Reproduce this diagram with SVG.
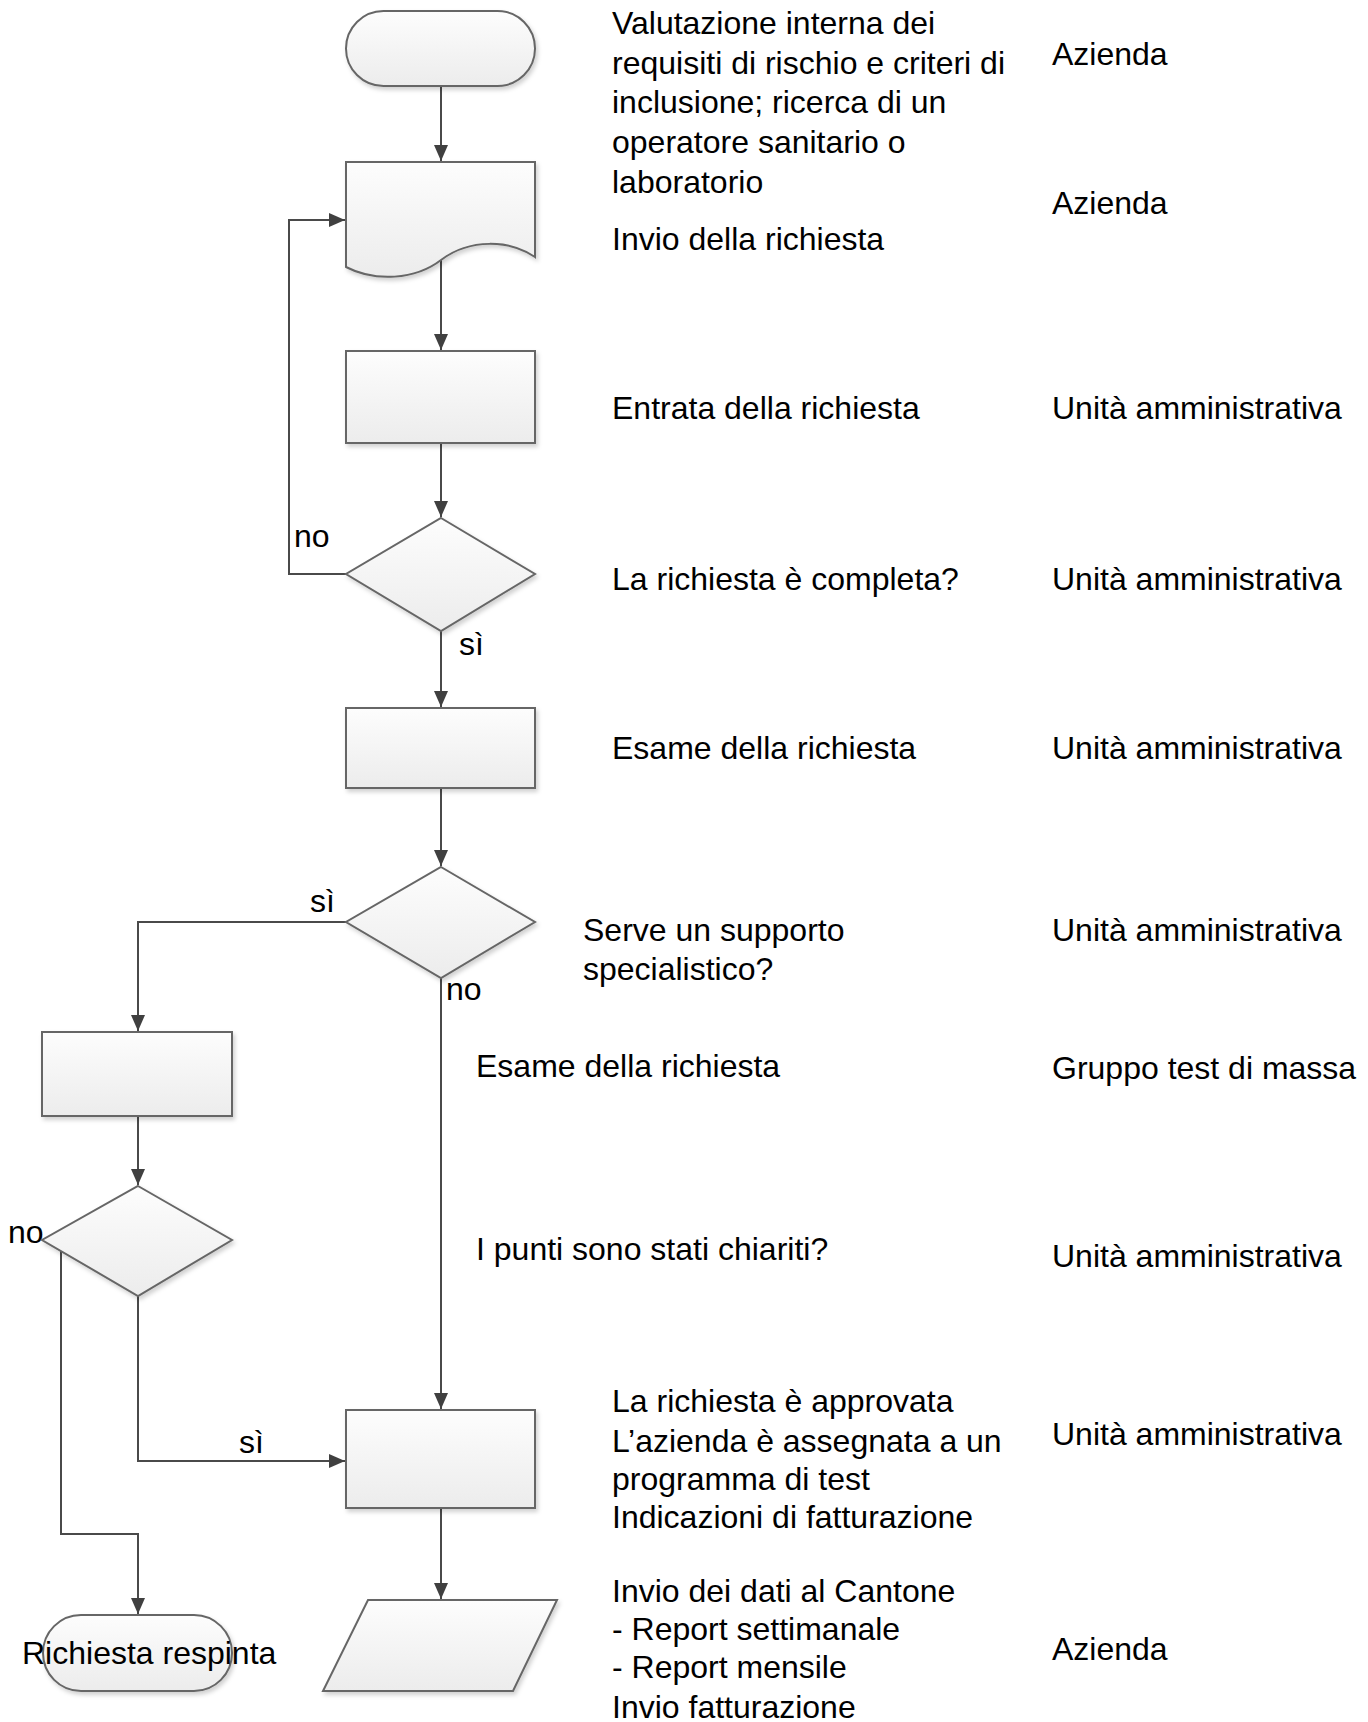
<svg xmlns="http://www.w3.org/2000/svg" width="1368" height="1722" viewBox="0 0 1368 1722">
<style>
.shape{fill:url(#g);stroke:#666;stroke-width:2;filter:url(#sh)}
.conn{fill:none;stroke:#4a4a4a;stroke-width:2;marker-end:url(#arr)}
.line{fill:none;stroke:#4a4a4a;stroke-width:2}
text{font-family:"Liberation Sans",Arial,sans-serif;font-size:32px;fill:#000}
</style>
<defs>
<linearGradient id="g" x1="0" y1="0" x2="0" y2="1">
<stop offset="0" stop-color="#fdfdfd"/>
<stop offset="1" stop-color="#ececec"/>
</linearGradient>
<filter id="sh" x="-10%" y="-10%" width="130%" height="130%">
<feDropShadow dx="2" dy="3" stdDeviation="2" flood-color="#000" flood-opacity="0.18"/>
</filter>
<marker id="arr" markerUnits="userSpaceOnUse" markerWidth="16" markerHeight="14" refX="16" refY="7" orient="auto">
<path d="M0,0 L16,7 L0,14 Z" fill="#404040"/>
</marker>
</defs>
<rect width="1368" height="1722" fill="#fff"/>

<g id="connectors">
<path class="conn" d="M441,86 V161"/>
<path class="conn" d="M441,260 V350"/>
<path class="conn" d="M441,443 V517"/>
<path class="conn" d="M346,574 H289 V220 H345"/>
<path class="conn" d="M441,631 V707"/>
<path class="conn" d="M441,788 V866"/>
<path class="conn" d="M346,922 H138 V1031"/>
<path class="conn" d="M441,978 V1409"/>
<path class="conn" d="M138,1116 V1185"/>
<path class="conn" d="M138,1296 V1461 H345"/>
<path class="conn" d="M42,1240 H61 V1534 H138 V1614"/>
<path class="conn" d="M441,1508 V1599"/>
<text x="294" y="547">no</text>
<text x="459" y="655">sì</text>
<text x="310" y="912">sì</text>
<text x="446" y="1000">no</text>
<text x="8" y="1243">no</text>
<text x="239" y="1453">sì</text>
</g>

<g id="start"><rect class="shape" x="346" y="11" width="189" height="75" rx="37.5"/></g>
<g id="doc"><path class="shape" d="M346,162 H535 V257 C510,240 470,238 441,260 C415,280 375,282 346,267 Z"/></g>
<g id="entry"><rect class="shape" x="346" y="351" width="189" height="92"/></g>
<g id="dec1"><path class="shape" d="M441,518 L535,574 L441,631 L346,574 Z"/></g>
<g id="exam"><rect class="shape" x="346" y="708" width="189" height="80"/></g>
<g id="dec2"><path class="shape" d="M441,867 L535,922 L441,978 L346,922 Z"/></g>
<g id="exam2"><rect class="shape" x="42" y="1032" width="190" height="84"/></g>
<g id="dec3"><path class="shape" d="M138,1186 L232,1240 L138,1296 L42,1240 Z"/></g>
<g id="approve"><rect class="shape" x="346" y="1410" width="189" height="98"/></g>
<g id="data"><path class="shape" d="M368,1600 H557 L513,1691 H323 Z"/></g>
<g id="reject"><rect class="shape" x="43" y="1615" width="189" height="76" rx="38"/>
<text x="22" y="1664">Richiesta respinta</text></g>

<g id="desc">
<text x="612" y="34">Valutazione interna dei</text>
<text x="612" y="74">requisiti di rischio e criteri di</text>
<text x="612" y="113">inclusione; ricerca di un</text>
<text x="612" y="153">operatore sanitario o</text>
<text x="612" y="193">laboratorio</text>
<text x="612" y="250">Invio della richiesta</text>
<text x="612" y="419">Entrata della richiesta</text>
<text x="612" y="590">La richiesta è completa?</text>
<text x="612" y="759">Esame della richiesta</text>
<text x="583" y="941">Serve un supporto</text>
<text x="583" y="980">specialistico?</text>
<text x="476" y="1077">Esame della richiesta</text>
<text x="476" y="1260">I punti sono stati chiariti?</text>
<text x="612" y="1412">La richiesta è approvata</text>
<text x="612" y="1452">L’azienda è assegnata a un</text>
<text x="612" y="1490">programma di test</text>
<text x="612" y="1528">Indicazioni di fatturazione</text>
<text x="612" y="1602">Invio dei dati al Cantone</text>
<text x="612" y="1640">- Report settimanale</text>
<text x="612" y="1678">- Report mensile</text>
<text x="612" y="1718">Invio fatturazione</text>
</g>

<g id="resp">
<text x="1052" y="65">Azienda</text>
<text x="1052" y="214">Azienda</text>
<text x="1052" y="419">Unità amministrativa</text>
<text x="1052" y="590">Unità amministrativa</text>
<text x="1052" y="759">Unità amministrativa</text>
<text x="1052" y="941">Unità amministrativa</text>
<text x="1052" y="1079">Gruppo test di massa</text>
<text x="1052" y="1267">Unità amministrativa</text>
<text x="1052" y="1445">Unità amministrativa</text>
<text x="1052" y="1660">Azienda</text>
</g>
</svg>
